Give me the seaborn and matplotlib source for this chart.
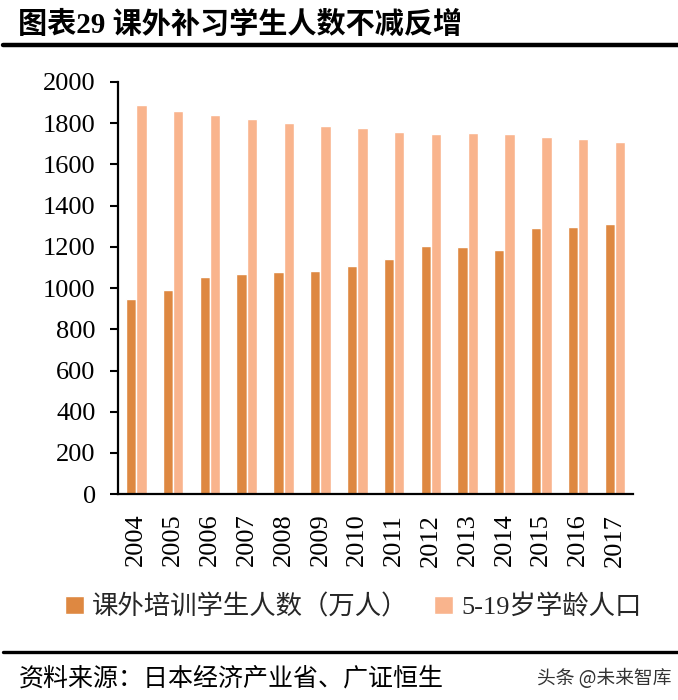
import matplotlib
matplotlib.use("Agg")
import matplotlib.pyplot as plt
from matplotlib.lines import Line2D
import seaborn as sns
import pandas as pd

years = ["2004", "2005", "2006", "2007", "2008", "2009", "2010",
         "2011", "2012", "2013", "2014", "2015", "2016", "2017"]
tutoring = [946, 990, 1053, 1068, 1078, 1083, 1107,
            1141, 1204, 1199, 1184, 1290, 1296, 1311]
population = [1887, 1858, 1841, 1822, 1803, 1788, 1775,
              1759, 1745, 1751, 1748, 1732, 1723, 1709]
series_names = ["课外培训学生人数（万人）", "5-19岁学龄人口"]
colors = ["#DE8841", "#F9B48D"]

df = pd.DataFrame({
    "year": years * 2,
    "value": tutoring + population,
    "series": [series_names[0]] * len(years) + [series_names[1]] * len(years),
})

sns.set_theme(style="white")
plt.rcParams["font.family"] = ["Liberation Serif", "Noto Sans CJK SC"]

fig = plt.figure(figsize=(6.78, 7.0), dpi=100)
ax = fig.add_axes([0.174, 0.294, 0.76, 0.589])

sns.barplot(data=df, x="year", y="value", hue="series", palette=colors,
            width=0.56, gap=0, saturation=1, ax=ax, legend=True)

ax.set_ylim(0, 2000)
ax.set_xlim(-0.5, 13.5)
ax.set_yticks(range(0, 2001, 200))
ax.set_xlabel("")
ax.set_ylabel("")
for s in ["top", "right"]:
    ax.spines[s].set_visible(False)
for s in ["left", "bottom"]:
    ax.spines[s].set_color("black")
    ax.spines[s].set_linewidth(1.6)
ax.tick_params(axis="y", which="major", direction="out", length=6, width=1.5,
               color="black", left=True, labelsize=19, labelcolor="black", pad=10)
ax.tick_params(axis="x", bottom=False, labelsize=19, labelcolor="black",
               labelrotation=90, pad=8)
for lab in ax.get_xticklabels() + ax.get_yticklabels():
    lab.set_fontfamily(["Liberation Serif"])

handles, labels = ax.get_legend_handles_labels()
ax.get_legend().remove()
fig.legend(handles, labels, loc="center", bbox_to_anchor=(0.521, 0.133), ncol=2,
           frameon=False, handlelength=0.7, handleheight=0.7, handletextpad=0.3,
           columnspacing=1.0,
           prop={"family": ["Liberation Serif", "Noto Sans CJK SC"], "size": 19})

fig.text(0.027, 0.965, "图表29 课外补习学生人数不减反增", fontsize=21, fontweight="bold",
         family=["Liberation Serif", "Noto Sans CJK SC"], va="center", ha="left",
         color="black")
fig.add_artist(Line2D([0.004, 1.0], [0.936, 0.936], color="black", linewidth=3.2,
                      transform=fig.transFigure))
fig.add_artist(Line2D([0.004, 1.0], [0.069, 0.069], color="black", linewidth=2.4,
                      transform=fig.transFigure))
fig.text(0.027, 0.031, "资料来源：日本经济产业省、广证恒生", fontsize=18,
         family=["Noto Sans CJK SC"], va="center", ha="left", color="black")
fig.text(0.99, 0.031, "头条 @未来智库", fontsize=13.5,
         family=["Noto Sans CJK SC"], va="center", ha="right", color="#333333")

fig.savefig("out.png", dpi=100)
